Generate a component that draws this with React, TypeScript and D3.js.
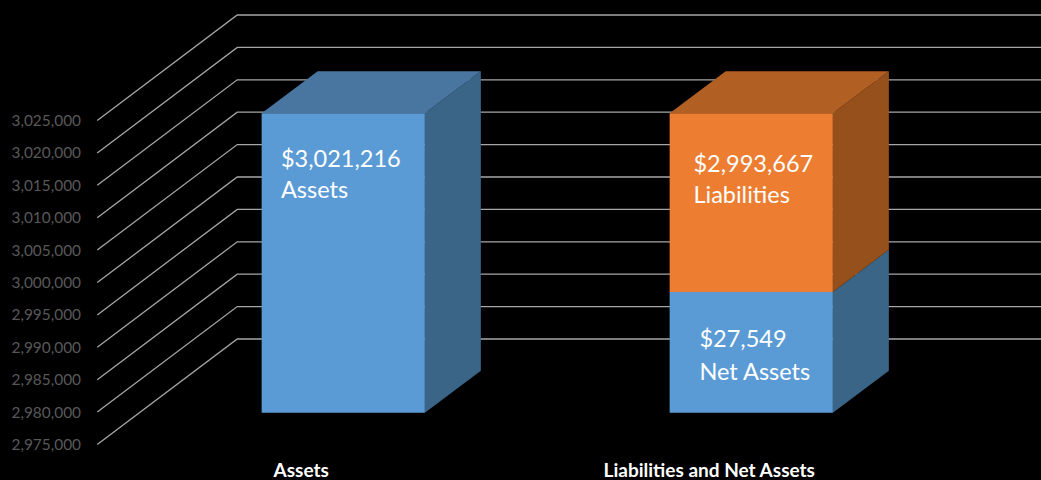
import React from 'react';
import * as d3 from 'd3';

const categories = ['Assets', 'Liabilities and Net Assets'];
const yTicks = [2975000, 2980000, 2985000, 2990000, 2995000, 3000000, 3005000, 3010000, 3015000, 3020000, 3025000];

// stacked segments per category, bottom one first
const assetsSegments = [3021216];
const liabilitySegments = [2993667, 27549];
const segments = [assetsSegments, liabilitySegments];
const segmentColors = [
  { front: '#5b9bd5', top: '#4876a1', side: '#3a6587' },
  { front: '#ed7d31', top: '#b25f23', side: '#96501c' },
];

const dataLabels = [
  { category: 0, lines: ['$3,021,216', 'Assets'], dx: 19.3, y: 167, gap: 31 },
  { category: 1, lines: ['$2,993,667', 'Liabilities'], dx: 23.8, y: 172, gap: 31 },
  { category: 1, lines: ['$27,549', 'Net Assets'], dx: 29.8, y: 347, gap: 32.5 },
];

const width = 1041;
const height = 480;
const depthX = 140;
const depthY = -105.5;
const barFrontDepth = 0.3;
const barBackDepth = 0.7;
const barWidthRatio = 0.4;

const font = 'Lato, "Open Sans", sans-serif';

const App = () => {
  const x = d3.scaleBand<string>().domain(categories).range([97.25, 913.25]);
  const y = d3.scaleLinear().domain([2975000, 3025000]).range([444.5, 120.5]);
  const fmt = d3.format(',');

  // front-plane position pushed back into the chart by depth t
  const pt = (px: number, v: number, t: number): [number, number] => [px + depthX * t, y(v) + depthY * t];
  const poly = (points: [number, number][]) => d3.line()(points) + 'Z';

  const barW = x.bandwidth() * barWidthRatio;
  const barLeft = (c: string) => x(c)! + (x.bandwidth() - barW) / 2;

  return (
    <svg width={width} height={height} style={{ position: 'absolute', left: 0, top: 0, background: '#000' }}>
      {yTicks.map((t) => {
        const a = pt(x.range()[0], t, 0);
        const b = pt(x.range()[0], t, 1);
        const c = pt(x.range()[1], t, 1);
        return (
          <g key={t}>
            <path d={d3.line()([a, b, c])!} fill="none" stroke="#a6a6a6" strokeWidth={1.3} />
            <text x={81} y={y(t) + 5.5} textAnchor="end" fontFamily={font} fontSize={15.4} fill="#595959">
              {fmt(t)}
            </text>
          </g>
        );
      })}

      {categories.map((c, i) => {
        const x0 = barLeft(c);
        const x1 = x0 + barW;
        const stacks = segments[i];
        let acc = y.domain()[0];
        return (
          <g key={c}>
            {stacks.map((v, j) => {
              const lo = acc;
              // first segment is an absolute value, the axis does not start at zero
              const hi = j === 0 ? v : acc + v;
              acc = hi;
              const col = segmentColors[j];
              const isTop = j === stacks.length - 1;
              return (
                <g key={j}>
                  <path
                    d={poly([pt(x1, lo, barFrontDepth), pt(x1, lo, barBackDepth), pt(x1, hi, barBackDepth), pt(x1, hi, barFrontDepth)])}
                    fill={col.side}
                  />
                  {isTop && (
                    <path
                      d={poly([pt(x0, hi, barFrontDepth), pt(x0, hi, barBackDepth), pt(x1, hi, barBackDepth), pt(x1, hi, barFrontDepth)])}
                      fill={col.top}
                    />
                  )}
                  <path
                    d={poly([pt(x0, lo, barFrontDepth), pt(x1, lo, barFrontDepth), pt(x1, hi, barFrontDepth), pt(x0, hi, barFrontDepth)])}
                    fill={col.front}
                  />
                </g>
              );
            })}
          </g>
        );
      })}

      {dataLabels.map((d) => {
        const lx = barLeft(categories[d.category]) + depthX * barFrontDepth + d.dx;
        return (
          <text key={d.lines[0]} x={lx} y={d.y} fontFamily={font} fontSize={23.5} fill="#fff">
            <tspan x={lx}>{d.lines[0]}</tspan>
            <tspan x={lx} dy={d.gap}>{d.lines[1]}</tspan>
          </text>
        );
      })}

      {categories.map((c) => (
        <text
          key={c}
          x={x(c)! + x.bandwidth() / 2}
          y={477}
          textAnchor="middle"
          fontFamily={font}
          fontWeight={700}
          fontSize={19}
          fill="#fff"
        >
          {c}
        </text>
      ))}
    </svg>
  );
};

export default App;
